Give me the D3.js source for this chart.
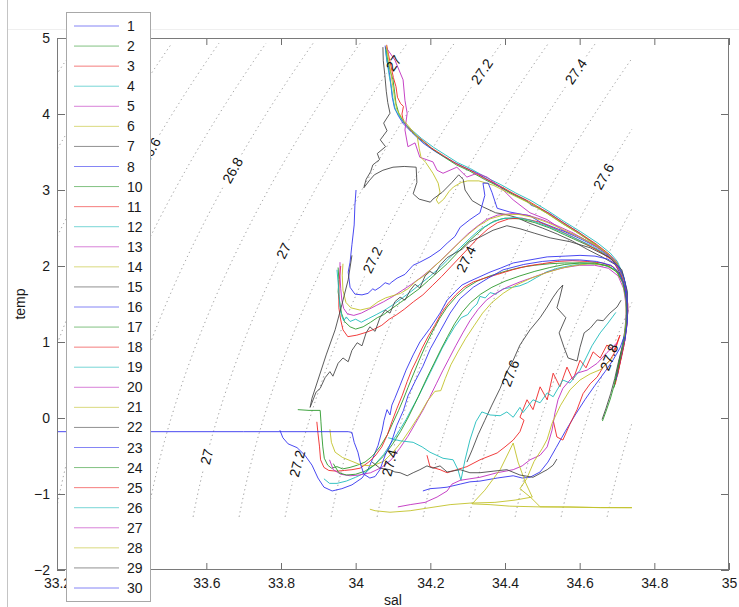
<!DOCTYPE html>
<html>
<head>
<meta charset="utf-8">
<script src="https://cdn.jsdelivr.net/npm/d3@7"></script>
<style>
  html, body { margin: 0; padding: 0; background: #fff; }
  svg { display: block; font-family: "Liberation Sans", Arial, Helvetica, sans-serif; }
</style>
</head>
<body>
<svg id="chart" width="739" height="607"></svg>
<script>
// ---------------- axis ticks ----------------
const xTicks = [33.2, 33.4, 33.6, 33.8, 34, 34.2, 34.4, 34.6, 34.8, 35];
const xTicksUnderLegend = [33.4];
const yTicks = [-2, -1, 0, 1, 2, 3, 4, 5];

// ---------------- profiles: [salinity, temperature] ----------------
const seriesNames = ["1","2","3","4","5","6","7","8","10","11","12","13","14","15","16","17","18","19","20","21","22","23","24","25","26","27","28","29","30"];
const colorOrder = ["#3535f0", "#2e9a2e", "#f02828", "#20bcbc", "#c030c0", "#c2c22a", "#4a4a4a"];

const s1 = [[34.079,4.90],[34.083,4.72],[34.090,4.55],[34.094,4.40],[34.098,4.22],[34.104,4.08],[34.115,3.97],[34.128,3.87],[34.150,3.76],[34.180,3.62],[34.212,3.51],[34.236,3.44],[34.262,3.37],[34.290,3.30],[34.322,3.23],[34.352,3.14],[34.384,3.05],[34.420,2.95],[34.455,2.87],[34.470,2.80],[34.492,2.76],[34.520,2.69],[34.556,2.57],[34.598,2.44],[34.640,2.29],[34.675,2.16],[34.699,2.05],[34.716,1.87],[34.726,1.65],[34.728,1.40],[34.724,1.17],[34.716,0.94],[34.707,0.77],[34.698,0.57]];
const s2 = [[34.081,4.88],[34.086,4.70],[34.093,4.56],[34.100,4.45],[34.104,4.30],[34.108,4.14],[34.116,4.00],[34.130,3.88],[34.150,3.77],[34.172,3.67],[34.205,3.54],[34.238,3.43],[34.270,3.33],[34.305,3.25],[34.345,3.14],[34.386,3.04],[34.426,2.93],[34.466,2.83],[34.514,2.69],[34.554,2.56],[34.600,2.42],[34.646,2.27],[34.680,2.14],[34.700,2.03],[34.716,1.86],[34.727,1.64],[34.728,1.38],[34.724,1.16],[34.716,0.93],[34.708,0.76],[34.700,0.56],[34.692,0.40]];
const s3 = [[34.083,4.91],[34.088,4.78],[34.095,4.62],[34.101,4.48],[34.108,4.36],[34.112,4.22],[34.120,4.14],[34.128,4.10],[34.124,4.00],[34.128,3.90],[34.145,3.80],[34.170,3.69],[34.204,3.55],[34.236,3.45],[34.268,3.35],[34.303,3.27],[34.343,3.16],[34.384,3.06],[34.424,2.95],[34.464,2.85],[34.512,2.71],[34.553,2.58],[34.598,2.44],[34.644,2.29],[34.678,2.16],[34.699,2.05],[34.716,1.87],[34.727,1.65],[34.729,1.40],[34.725,1.17],[34.718,0.94],[34.710,0.77],[34.702,0.57]];
const s4 = [[34.080,4.85],[34.085,4.66],[34.090,4.50],[34.096,4.34],[34.100,4.20],[34.106,4.06],[34.118,3.96],[34.134,3.86],[34.155,3.77],[34.176,3.68],[34.209,3.56],[34.241,3.46],[34.273,3.36],[34.308,3.28],[34.348,3.17],[34.389,3.07],[34.429,2.96],[34.470,2.86],[34.517,2.72],[34.557,2.59],[34.603,2.45],[34.649,2.30],[34.682,2.17],[34.701,2.06],[34.717,1.88],[34.727,1.66],[34.729,1.41],[34.725,1.18],[34.717,0.95]];
const s5 = [[34.081,4.88],[34.105,4.71],[34.127,4.45],[34.132,4.18],[34.138,4.01],[34.132,3.79],[34.140,3.57],[34.159,3.62],[34.172,3.43],[34.207,3.37],[34.218,3.26],[34.234,3.22],[34.271,3.30],[34.298,3.17],[34.325,3.22],[34.352,3.17],[34.387,3.04],[34.422,2.87],[34.467,2.70],[34.513,2.61],[34.555,2.47],[34.601,2.38],[34.647,2.26],[34.686,2.12],[34.708,1.96],[34.720,1.78],[34.727,1.55],[34.727,1.30],[34.722,1.08],[34.714,0.88],[34.705,0.68]];
const s6 = [[34.082,4.90],[34.088,4.72],[34.094,4.55],[34.099,4.38],[34.104,4.22],[34.110,4.06],[34.125,3.94],[34.145,3.82],[34.165,3.70],[34.170,3.55],[34.175,3.43],[34.188,3.36],[34.207,3.22],[34.221,3.09],[34.226,2.97],[34.216,2.87],[34.222,2.82],[34.236,2.88],[34.250,2.98],[34.262,3.04],[34.283,3.10],[34.300,3.12],[34.330,3.12],[34.370,3.06],[34.410,2.96],[34.460,2.84],[34.510,2.70],[34.553,2.56],[34.600,2.42],[34.645,2.27],[34.680,2.14],[34.700,2.03],[34.716,1.85],[34.726,1.62],[34.727,1.37]];
const s7 = [[34.073,4.88],[34.074,4.70],[34.078,4.52],[34.082,4.30],[34.086,4.15],[34.092,4.01],[34.075,3.88],[34.084,3.78],[34.066,3.66],[34.080,3.57],[34.058,3.48],[34.064,3.40],[34.046,3.33],[34.040,3.24],[34.028,3.14],[34.022,3.03],[34.036,3.12],[34.050,3.20],[34.073,3.26],[34.100,3.30],[34.130,3.31],[34.162,3.30],[34.164,3.10],[34.154,2.95],[34.170,2.88],[34.200,2.84],[34.207,2.88],[34.232,2.97],[34.258,3.10],[34.276,3.20],[34.288,3.14],[34.293,3.00],[34.312,2.86],[34.340,2.78],[34.375,2.70],[34.400,2.68],[34.430,2.64],[34.467,2.56],[34.500,2.50],[34.540,2.42],[34.580,2.33],[34.620,2.22],[34.660,2.12],[34.695,2.02],[34.714,1.85],[34.724,1.62],[34.725,1.37],[34.721,1.15],[34.713,0.92],[34.704,0.74],[34.694,0.52],[34.683,0.32],[34.670,0.12],[34.660,-0.02]];
const s8 = [[34.001,3.00],[33.998,2.80],[33.996,2.54],[33.990,2.28],[33.985,2.05],[33.980,1.92],[33.985,1.72],[33.998,1.63],[34.017,1.62],[34.033,1.64],[34.046,1.70],[34.052,1.68],[34.065,1.72],[34.079,1.78],[34.090,1.76],[34.097,1.79],[34.111,1.84],[34.132,1.89],[34.154,2.01],[34.172,2.05],[34.199,2.12],[34.226,2.21],[34.245,2.30],[34.266,2.39],[34.280,2.51],[34.306,2.61],[34.333,2.70],[34.346,2.93],[34.341,3.09],[34.355,3.09],[34.365,2.97],[34.379,2.76],[34.413,2.71],[34.467,2.66],[34.494,2.58],[34.561,2.45],[34.601,2.36],[34.647,2.25],[34.686,2.11],[34.710,1.95],[34.722,1.78],[34.728,1.55],[34.727,1.30],[34.722,1.10],[34.715,0.90],[34.707,0.72],[34.699,0.54]];
const s10 = [[33.953,1.98],[33.955,1.82],[33.953,1.66],[33.958,1.50],[33.962,1.38],[33.970,1.27],[33.985,1.20],[34.000,1.17],[34.020,1.20],[34.040,1.26],[34.058,1.32],[34.075,1.36],[34.097,1.44],[34.120,1.52],[34.145,1.61],[34.170,1.70],[34.195,1.81],[34.220,1.92],[34.245,2.03],[34.270,2.16],[34.295,2.29],[34.320,2.40],[34.345,2.51],[34.370,2.59],[34.400,2.63],[34.440,2.62],[34.480,2.57],[34.520,2.50],[34.560,2.41],[34.600,2.32],[34.645,2.22],[34.684,2.10],[34.708,1.95],[34.721,1.76],[34.728,1.52],[34.726,1.26],[34.720,1.05],[34.712,0.85],[34.703,0.66],[34.694,0.47]];
const s11 = [[33.960,2.00],[33.956,1.82],[33.955,1.62],[33.955,1.45],[33.960,1.29],[33.966,1.16],[33.979,1.07],[34.003,1.09],[34.030,1.13],[34.050,1.17],[34.070,1.22],[34.090,1.30],[34.110,1.36],[34.130,1.43],[34.155,1.53],[34.180,1.62],[34.205,1.74],[34.230,1.86],[34.255,1.99],[34.280,2.12],[34.305,2.25],[34.330,2.38],[34.355,2.49],[34.380,2.57],[34.410,2.62],[34.445,2.63],[34.490,2.58],[34.530,2.50],[34.570,2.41],[34.610,2.31],[34.650,2.20],[34.686,2.08],[34.709,1.93],[34.722,1.73],[34.729,1.50],[34.727,1.24],[34.721,1.02],[34.713,0.82],[34.704,0.63],[34.695,0.44]];
const s12 = [[33.950,1.95],[33.953,1.78],[33.956,1.60],[33.958,1.46],[33.962,1.35],[33.968,1.28],[33.975,1.33],[33.985,1.27],[34.000,1.30],[34.015,1.26],[34.035,1.31],[34.055,1.36],[34.078,1.42],[34.100,1.49],[34.125,1.58],[34.150,1.67],[34.175,1.77],[34.200,1.87],[34.228,1.99],[34.254,2.12],[34.280,2.24],[34.305,2.36],[34.330,2.47],[34.360,2.56],[34.390,2.62],[34.430,2.64],[34.470,2.60],[34.510,2.53],[34.550,2.45],[34.590,2.36],[34.635,2.26],[34.675,2.14],[34.703,2.00],[34.718,1.82],[34.727,1.58],[34.728,1.33],[34.723,1.11]];
const s13 = [[33.958,2.05],[33.958,1.88],[33.960,1.70],[33.963,1.55],[33.968,1.44],[33.978,1.37],[33.995,1.35],[34.015,1.38],[34.035,1.43],[34.055,1.48],[34.075,1.53],[34.100,1.60],[34.125,1.68],[34.150,1.76],[34.175,1.85],[34.200,1.95],[34.225,2.06],[34.250,2.18],[34.275,2.30],[34.300,2.42],[34.325,2.52],[34.350,2.61],[34.380,2.67],[34.420,2.69],[34.460,2.67],[34.500,2.61],[34.540,2.53],[34.580,2.44],[34.620,2.33],[34.660,2.20],[34.693,2.06],[34.714,1.88],[34.726,1.64],[34.729,1.40],[34.725,1.18],[34.718,0.97],[34.710,0.79],[34.701,0.60]];
const s14 = [[33.966,2.03],[33.964,1.88],[33.966,1.68],[33.974,1.52],[33.987,1.45],[34.012,1.42],[34.038,1.45],[34.060,1.53],[34.080,1.58],[34.100,1.61],[34.120,1.64],[34.140,1.70],[34.162,1.80],[34.180,1.86],[34.205,1.97],[34.230,2.08],[34.255,2.20],[34.280,2.32],[34.305,2.43],[34.330,2.53],[34.360,2.62],[34.395,2.67],[34.435,2.68],[34.475,2.64],[34.515,2.57],[34.555,2.48],[34.595,2.39],[34.640,2.28],[34.678,2.15],[34.703,2.01],[34.718,1.83],[34.727,1.60],[34.728,1.35]];
const s15 = [[33.990,2.14],[33.980,1.82],[33.963,1.49],[33.945,1.16],[33.921,0.83],[33.899,0.50],[33.883,0.26],[33.878,0.14],[33.894,0.34],[33.905,0.39],[33.918,0.53],[33.931,0.61],[33.939,0.55],[33.953,0.72],[33.966,0.79],[33.980,0.74],[33.990,0.89],[34.004,0.99],[34.017,0.95],[34.028,1.12],[34.038,1.20],[34.052,1.14],[34.065,1.32],[34.079,1.42],[34.092,1.38],[34.105,1.53],[34.119,1.59],[34.132,1.55],[34.146,1.68],[34.159,1.76],[34.172,1.71],[34.186,1.87],[34.199,1.93],[34.212,1.89],[34.226,2.01],[34.245,2.11],[34.266,2.17],[34.285,2.22],[34.306,2.32],[34.333,2.38],[34.368,2.47],[34.405,2.53],[34.440,2.49],[34.480,2.43],[34.521,2.37],[34.574,2.32],[34.628,2.24],[34.681,2.11],[34.713,1.95],[34.727,1.68],[34.727,1.36],[34.719,1.03],[34.705,0.74]];
const s16 = [[33.797,-0.16],[33.805,-0.26],[33.819,-0.34],[33.843,-0.39],[33.864,-0.49],[33.883,-0.62],[33.899,-0.79],[33.915,-0.91],[33.937,-0.96],[33.963,-0.93],[33.990,-0.88],[34.017,-0.79],[34.033,-0.68],[34.046,-0.53],[34.060,-0.36],[34.071,-0.16],[34.076,-0.03],[34.084,0.11],[34.092,0.04],[34.097,0.17],[34.105,0.26],[34.119,0.43],[34.135,0.63],[34.154,0.83],[34.172,1.00],[34.199,1.18],[34.226,1.38],[34.245,1.55],[34.266,1.66],[34.285,1.75],[34.306,1.80],[34.333,1.86],[34.360,1.92],[34.387,1.97],[34.422,2.04],[34.467,2.08],[34.513,2.12],[34.561,2.13],[34.601,2.14],[34.641,2.13],[34.676,2.09],[34.703,2.00],[34.719,1.84],[34.727,1.62],[34.727,1.29],[34.719,0.99],[34.708,0.74],[34.697,0.50]];
const s17 = [[33.845,0.11],[33.875,0.10],[33.905,0.10],[33.907,-0.05],[33.909,-0.20],[33.912,-0.38],[33.916,-0.53],[33.925,-0.62],[33.935,-0.66],[33.950,-0.64],[33.965,-0.67],[33.985,-0.65],[34.005,-0.62],[34.025,-0.58],[34.045,-0.50],[34.065,-0.38],[34.085,-0.22],[34.100,-0.06],[34.115,0.10],[34.128,0.25],[34.140,0.40],[34.155,0.58],[34.170,0.76],[34.187,0.95],[34.205,1.13],[34.225,1.31],[34.245,1.46],[34.270,1.60],[34.295,1.71],[34.325,1.80],[34.360,1.87],[34.400,1.93],[34.440,1.98],[34.480,2.01],[34.520,2.03],[34.560,2.04],[34.600,2.04],[34.640,2.03],[34.675,2.00],[34.700,1.94],[34.716,1.80],[34.725,1.58],[34.726,1.32],[34.721,1.08],[34.712,0.86],[34.703,0.66]];
const s18 = [[33.896,-0.05],[33.899,-0.20],[33.903,-0.37],[33.906,-0.55],[33.915,-0.65],[33.928,-0.69],[33.950,-0.70],[33.970,-0.69],[33.990,-0.68],[34.012,-0.66],[34.035,-0.58],[34.052,-0.50],[34.070,-0.38],[34.085,-0.22],[34.097,-0.05],[34.110,0.12],[34.125,0.30],[34.138,0.48],[34.150,0.63],[34.165,0.78],[34.178,0.92],[34.195,1.08],[34.212,1.22],[34.230,1.38],[34.248,1.51],[34.268,1.62],[34.290,1.72],[34.315,1.79],[34.345,1.84],[34.380,1.89],[34.420,1.95],[34.460,2.00],[34.500,2.03],[34.540,2.06],[34.580,2.07],[34.620,2.06],[34.660,2.04],[34.690,1.99],[34.710,1.88],[34.722,1.70],[34.727,1.46],[34.725,1.21],[34.719,0.99],[34.711,0.80],[34.702,0.60]];
const s19 = [[33.915,-0.80],[33.930,-0.86],[33.950,-0.86],[33.975,-0.83],[34.000,-0.78],[34.025,-0.72],[34.050,-0.62],[34.075,-0.48],[34.095,-0.33],[34.115,-0.18],[34.135,-0.02],[34.150,0.12],[34.168,0.28],[34.185,0.45],[34.200,0.60],[34.215,0.75],[34.232,0.92],[34.248,1.06],[34.265,1.20],[34.283,1.32],[34.300,1.36],[34.312,1.44],[34.325,1.50],[34.333,1.60],[34.347,1.58],[34.360,1.65],[34.375,1.63],[34.395,1.70],[34.420,1.72],[34.440,1.74],[34.460,1.78],[34.485,1.85],[34.510,1.92],[34.540,1.97],[34.580,2.01],[34.620,2.03],[34.660,2.02],[34.692,1.96],[34.712,1.84],[34.723,1.62],[34.726,1.38],[34.722,1.14],[34.714,0.92]];
const s20 = [[33.930,-0.55],[33.940,-0.68],[33.960,-0.74],[33.985,-0.76],[34.010,-0.75],[34.040,-0.72],[34.070,-0.65],[34.095,-0.55],[34.118,-0.40],[34.140,-0.24],[34.160,-0.07],[34.180,0.10],[34.198,0.27],[34.216,0.45],[34.233,0.62],[34.250,0.78],[34.268,0.95],[34.287,1.12],[34.306,1.28],[34.328,1.43],[34.350,1.55],[34.375,1.64],[34.405,1.72],[34.440,1.79],[34.480,1.86],[34.520,1.93],[34.560,1.98],[34.600,2.01],[34.640,2.01],[34.677,1.97],[34.703,1.87],[34.718,1.70],[34.725,1.46],[34.724,1.22],[34.718,0.99],[34.710,0.80]];
const s21 = [[33.931,-0.15],[33.935,-0.32],[33.945,-0.45],[33.965,-0.52],[33.990,-0.57],[34.015,-0.62],[34.045,-0.63],[34.075,-0.57],[34.100,-0.45],[34.125,-0.30],[34.150,-0.12],[34.172,0.05],[34.192,0.22],[34.212,0.35],[34.228,0.36],[34.240,0.52],[34.255,0.70],[34.275,0.88],[34.295,1.05],[34.318,1.22],[34.340,1.38],[34.365,1.52],[34.395,1.64],[34.430,1.75],[34.470,1.84],[34.510,1.91],[34.550,1.97],[34.590,2.01],[34.630,2.03],[34.670,2.01],[34.698,1.93],[34.715,1.78],[34.724,1.55],[34.725,1.30],[34.720,1.07]];
const s22 = [[34.298,-0.58],[34.312,-0.42],[34.328,-0.22],[34.346,-0.03],[34.365,0.17],[34.387,0.39],[34.405,0.61],[34.422,0.76],[34.440,0.96],[34.467,1.16],[34.494,1.32],[34.513,1.46],[34.529,1.59],[34.542,1.68],[34.555,1.75],[34.547,1.59],[34.539,1.45],[34.563,1.32],[34.545,1.12],[34.558,0.93],[34.569,0.79],[34.593,0.75],[34.601,0.93],[34.612,1.12],[34.628,1.18],[34.647,1.29],[34.663,1.28],[34.681,1.38],[34.700,1.46],[34.711,1.55]];
const s23 = [[34.180,-0.96],[34.199,-0.93],[34.226,-0.92],[34.245,-0.91],[34.280,-0.87],[34.306,-0.84],[34.333,-0.83],[34.379,-0.79],[34.422,-0.76],[34.446,-0.79],[34.467,-0.78],[34.494,-0.71],[34.515,-0.58],[34.537,-0.39],[34.561,-0.18],[34.588,0.04],[34.614,0.24],[34.641,0.43],[34.668,0.61],[34.689,0.76],[34.708,0.92],[34.719,1.07]];
const s24 = [[33.940,-0.60],[33.955,-0.72],[33.975,-0.75],[34.000,-0.74],[34.025,-0.70],[34.050,-0.62],[34.075,-0.50],[34.098,-0.35],[34.120,-0.18],[34.140,0.00],[34.158,0.18],[34.175,0.36],[34.192,0.54],[34.210,0.72],[34.228,0.90],[34.246,1.07],[34.265,1.24],[34.285,1.39],[34.308,1.52],[34.335,1.63],[34.365,1.72],[34.400,1.80],[34.440,1.87],[34.480,1.93],[34.520,1.98],[34.560,2.02],[34.600,2.04],[34.640,2.04],[34.676,2.00],[34.700,1.92],[34.716,1.78],[34.725,1.55],[34.726,1.30],[34.721,1.07],[34.713,0.88],[34.703,0.66],[34.693,0.44],[34.682,0.25],[34.670,0.08],[34.661,-0.04]];
const s25 = [[34.191,-0.49],[34.199,-0.64],[34.226,-0.68],[34.245,-0.72],[34.271,-0.68],[34.298,-0.64],[34.333,-0.55],[34.379,-0.46],[34.400,-0.38],[34.422,-0.29],[34.440,-0.18],[34.451,-0.03],[34.440,0.01],[34.459,0.24],[34.475,0.11],[34.494,0.41],[34.513,0.24],[34.529,0.59],[34.547,0.41],[34.566,0.67],[34.582,0.50],[34.601,0.76],[34.617,0.66],[34.636,0.87],[34.655,0.79],[34.673,0.96],[34.692,0.89],[34.708,1.09],[34.692,0.85],[34.681,0.76],[34.663,0.67],[34.647,0.54],[34.628,0.45],[34.609,0.32],[34.593,0.11],[34.574,-0.08],[34.555,-0.29],[34.539,-0.25],[34.529,-0.03]];
const s26 = [[34.087,-0.26],[34.119,-0.30],[34.154,-0.32],[34.178,-0.38],[34.199,-0.45],[34.234,-0.53],[34.261,-0.55],[34.274,-0.68],[34.282,-0.82],[34.293,-0.55],[34.306,-0.29],[34.322,-0.05],[34.338,0.08],[34.360,0.04],[34.387,0.03],[34.405,0.08],[34.422,0.01],[34.440,0.14],[34.448,0.07],[34.475,0.24],[34.494,0.20],[34.513,0.33],[34.529,0.28],[34.555,0.50],[34.574,0.46],[34.601,0.63],[34.617,0.79],[34.633,0.95],[34.655,1.12],[34.676,1.25],[34.697,1.39]];
const s27 = [[34.113,-1.17],[34.146,-1.14],[34.186,-1.11],[34.218,-1.04],[34.245,-0.96],[34.258,-0.87],[34.280,-0.82],[34.306,-0.80],[34.333,-0.78],[34.379,-0.72],[34.422,-0.68],[34.446,-0.63],[34.467,-0.55],[34.494,-0.49],[34.513,-0.38],[34.526,-0.16],[34.534,0.07],[34.542,0.24],[34.555,0.39],[34.574,0.50],[34.593,0.59],[34.620,0.63],[34.647,0.72],[34.673,0.86],[34.700,0.99]];
const s28 = [[34.038,-1.20],[34.052,-1.22],[34.092,-1.24],[34.146,-1.22],[34.199,-1.18],[34.253,-1.14],[34.306,-1.12],[34.373,-1.11],[34.427,-1.08],[34.473,-1.04],[34.454,-0.84],[34.435,-0.58],[34.422,-0.33],[34.387,-0.68],[34.346,-0.95],[34.312,-1.13],[34.360,-1.14],[34.413,-1.16],[34.494,-1.17],[34.574,-1.17],[34.655,-1.18],[34.740,-1.18],[34.655,-1.178],[34.494,-1.168],[34.470,-1.05],[34.440,-0.93],[34.458,-0.80],[34.478,-0.57],[34.500,-0.40],[34.513,-0.28],[34.526,-0.07],[34.548,0.16],[34.574,0.37],[34.601,0.50],[34.628,0.58],[34.657,0.64],[34.690,0.80]];
const s29 = [[34.044,-0.58],[34.065,-0.66],[34.092,-0.68],[34.105,-0.71],[34.119,-0.72],[34.138,-0.76],[34.154,-0.72],[34.172,-0.68],[34.191,-0.63],[34.207,-0.66],[34.226,-0.63],[34.245,-0.71],[34.280,-0.68],[34.306,-0.72],[34.333,-0.72],[34.368,-0.70],[34.405,-0.68],[34.440,-0.75],[34.475,-0.78],[34.513,-0.68],[34.529,-0.62],[34.539,-0.54]];
const s30 = [[32.900,-0.18],[33.700,-0.18],[33.980,-0.18],[33.990,-0.19],[33.996,-0.32],[34.006,-0.45],[34.014,-0.62],[34.022,-0.74],[34.038,-0.79],[34.052,-0.77],[34.065,-0.68],[34.079,-0.49],[34.097,-0.30],[34.110,-0.10],[34.128,0.10],[34.140,0.29],[34.160,0.49],[34.180,0.68],[34.200,0.91],[34.226,1.14],[34.253,1.38],[34.280,1.57],[34.315,1.72],[34.355,1.84],[34.395,1.95],[34.450,2.02],[34.500,2.06],[34.550,2.08],[34.600,2.08],[34.645,2.06],[34.684,2.01],[34.706,1.91],[34.720,1.74],[34.727,1.50],[34.727,1.24],[34.721,1.01]];

const seriesData = [s1,s2,s3,s4,s5,s6,s7,s8,s10,s11,s12,s13,s14,s15,s16,s17,s18,s19,s20,s21,s22,s23,s24,s25,s26,s27,s28,s29,s30];

// ---------------- isopycnals (sigma-theta) ----------------
const contourLevels = d3.range(260, 281).map(v => v / 10);
const contourSalRange = [32.8, 34.74];
const contourTempRange = [-1.30, 4.93];
// label anchors: level and an approximate (sal, temp) location on that isopycnal
const labelLevels = [26.6, 26.8, 27, 27.2, 27.4, 27.6, 27, 27.2, 27.4, 27.6, 27.8, 27, 27.2, 27.4];
const labelSal    = [33.444, 33.671, 34.100, 34.341, 34.593, 34.668, 33.805, 34.046, 34.298, 34.413, 34.681, 33.602, 33.838, 34.092];
const labelTemp   = [3.53, 3.26, 4.67, 4.55, 4.55, 3.17, 2.21, 2.08, 2.08, 0.59, 0.80, -0.51, -0.59, -0.59];

// UNESCO 1981 (EOS-80) density at zero pressure, minus 1000
function sigma0(S, T) {
  const rw = 999.842594 + 6.793952e-2*T - 9.095290e-3*T*T + 1.001685e-4*T*T*T
           - 1.120083e-6*T*T*T*T + 6.536332e-9*T*T*T*T*T;
  const A = 8.24493e-1 - 4.0899e-3*T + 7.6438e-5*T*T - 8.2467e-7*T*T*T + 5.3875e-9*T*T*T*T;
  const B = -5.72466e-3 + 1.0227e-4*T - 1.6546e-6*T*T;
  const C = 4.8314e-4;
  return rw + A*S + B*Math.pow(S, 1.5) + C*S*S - 1000;
}

// ---------------- layout ----------------
const svg = d3.select("#chart");
const plot = { left: 57, right: 729, top: 38, bottom: 570 };
const x = d3.scaleLinear().domain([33.2, 35]).range([plot.left, plot.right]);
const y = d3.scaleLinear().domain([-2, 5]).range([plot.bottom, plot.top]);
const FONT = '"Liberation Sans", Arial, Helvetica, sans-serif';

svg.append("rect").attr("width", 739).attr("height", 607).attr("fill", "#fff");
// figure frame edges
svg.append("line").attr("x1", 7.5).attr("x2", 7.5).attr("y1", 0).attr("y2", 607)
  .attr("stroke", "#c4c4c4").attr("stroke-width", 1);
svg.append("line").attr("x1", 8).attr("x2", 739).attr("y1", 29.5).attr("y2", 29.5)
  .attr("stroke", "#efefef").attr("stroke-width", 1);

svg.append("defs").append("clipPath").attr("id", "plotClip")
  .append("rect").attr("x", plot.left).attr("y", plot.top)
  .attr("width", plot.right - plot.left).attr("height", plot.bottom - plot.top);

// ---------------- isopycnal lines ----------------
function solveSal(level, T) {
  let lo = contourSalRange[0], hi = contourSalRange[1];
  if (sigma0(lo, T) > level || sigma0(hi, T) < level) return null;
  for (let k = 0; k < 40; k++) {
    const mid = (lo + hi) / 2;
    if (sigma0(mid, T) < level) lo = mid; else hi = mid;
  }
  return (lo + hi) / 2;
}
const tempSteps = d3.range(Math.round(contourTempRange[0]*100), Math.round(contourTempRange[1]*100) + 1).map(v => v / 100);
const isolines = contourLevels.map(level => {
  const pts = [];
  tempSteps.forEach(T => {
    const S = solveSal(level, T);
    if (S !== null) pts.push([S, T]);
  });
  return { level, pts };
});

// label placement on the computed isolines
const labels = labelLevels.map((level, i) => {
  const iso = isolines.find(d => Math.abs(d.level - level) < 1e-6);
  const tx = x(labelSal[i]), ty = y(labelTemp[i]);
  let best = 0, bestD = Infinity;
  iso.pts.forEach((p, j) => {
    const d = (x(p[0]) - tx) ** 2 + (y(p[1]) - ty) ** 2;
    if (d < bestD) { bestD = d; best = j; }
  });
  const a = iso.pts[Math.max(0, best - 6)], b = iso.pts[Math.min(iso.pts.length - 1, best + 6)];
  let ang = Math.atan2(y(b[1]) - y(a[1]), x(b[0]) - x(a[0])) * 180 / Math.PI;
  if (ang > 90) ang -= 180;
  if (ang < -90) ang += 180;
  const text = String(level);
  const half = text.replace(".", "").length * 3.9 + (text.includes(".") ? 2 : 0) + 4;
  return { level, text, px: x(iso.pts[best][0]), py: y(iso.pts[best][1]), ang, half };
});

const contourG = svg.append("g").attr("clip-path", "url(#plotClip)");
const lineGen = d3.line().x(d => x(d[0])).y(d => y(d[1]));
isolines.forEach(iso => {
  const myLabels = labels.filter(l => Math.abs(l.level - iso.level) < 1e-6);
  const segs = [];
  let cur = [];
  iso.pts.forEach(p => {
    const px = x(p[0]), py = y(p[1]);
    const hidden = myLabels.some(l => Math.hypot(px - l.px, py - l.py) < l.half);
    if (hidden) { if (cur.length > 1) segs.push(cur); cur = []; }
    else cur.push(p);
  });
  if (cur.length > 1) segs.push(cur);
  segs.forEach(seg => {
    contourG.append("path").attr("d", lineGen(seg))
      .attr("fill", "none").attr("stroke", "#949494").attr("stroke-width", 1)
      .attr("stroke-dasharray", "1.2,3.3");
  });
});

// ---------------- profiles ----------------
const dataG = svg.append("g").attr("clip-path", "url(#plotClip)");
seriesData.forEach((pts, i) => {
  dataG.append("path").attr("d", lineGen(pts))
    .attr("fill", "none")
    .attr("stroke", colorOrder[i % colorOrder.length])
    .attr("stroke-width", 1)
    .attr("stroke-linejoin", "round")
    .attr("opacity", 0.9);
});

// ---------------- isopycnal labels ----------------
const labelG = svg.append("g");
labels.forEach(l => {
  labelG.append("text")
    .attr("transform", `translate(${l.px},${l.py}) rotate(${l.ang})`)
    .attr("text-anchor", "middle").attr("dy", "0.36em")
    .attr("font-size", 14).attr("font-family", FONT).attr("fill", "#111")
    .text(l.text);
});

// ---------------- axes ----------------
// the legend box sits over the 33.4 tick, so that label is left blank
const fmtX = d => xTicksUnderLegend.includes(d) ? "" : String(+d.toFixed(1));
function styleAxis(g) {
  g.select(".domain").remove();
  g.selectAll(".tick line").attr("stroke", "#6e6e6e");
  g.selectAll(".tick text").attr("font-size", 14).attr("font-family", FONT).attr("fill", "#1a1a1a");
}
svg.append("g").attr("transform", `translate(0,${plot.bottom})`)
  .call(d3.axisBottom(x).tickValues(xTicks).tickSize(-7).tickPadding(8).tickFormat(fmtX)).call(styleAxis);
svg.append("g").attr("transform", `translate(0,${plot.top})`)
  .call(d3.axisTop(x).tickValues(xTicks).tickSize(-7).tickFormat(() => "")).call(styleAxis);
svg.append("g").attr("transform", `translate(${plot.left},0)`)
  .call(d3.axisLeft(y).tickValues(yTicks).tickSize(-8).tickPadding(7).tickFormat(d3.format("d"))).call(styleAxis);
svg.append("g").attr("transform", `translate(${plot.right},0)`)
  .call(d3.axisRight(y).tickValues(yTicks).tickSize(-8).tickFormat(() => "")).call(styleAxis);

svg.append("rect").attr("x", plot.left + 0.5).attr("y", plot.top + 0.5)
  .attr("width", plot.right - plot.left - 1).attr("height", plot.bottom - plot.top - 1)
  .attr("fill", "none").attr("stroke", "#7a7a7a").attr("stroke-width", 1);

svg.append("text").attr("x", (plot.left + plot.right) / 2).attr("y", 605)
  .attr("text-anchor", "middle").attr("font-size", 14).attr("font-family", FONT).attr("fill", "#1a1a1a")
  .text("sal");
svg.append("text").attr("transform", `translate(25,${(plot.top + plot.bottom) / 2}) rotate(-90)`)
  .attr("text-anchor", "middle").attr("font-size", 14).attr("font-family", FONT).attr("fill", "#1a1a1a")
  .text("temp");

// ---------------- legend ----------------
const legend = svg.append("g");
legend.append("rect").attr("x", 66.5).attr("y", 12.5).attr("width", 84).attr("height", 589)
  .attr("fill", "#fff").attr("stroke", "#a8a8a8").attr("stroke-width", 1);
const rowY = d3.scaleLinear().domain([0, seriesNames.length - 1]).range([26, 588]);
seriesNames.forEach((name, i) => {
  const yy = rowY(i);
  legend.append("line").attr("x1", 74).attr("x2", 119).attr("y1", yy).attr("y2", yy)
    .attr("stroke", colorOrder[i % colorOrder.length]).attr("stroke-width", 1).attr("opacity", 0.6);
  legend.append("text").attr("x", 127).attr("y", yy).attr("dy", "0.36em")
    .attr("font-size", 14).attr("font-family", FONT).attr("fill", "#1a1a1a")
    .text(name);
});
</script>
</body>
</html>
